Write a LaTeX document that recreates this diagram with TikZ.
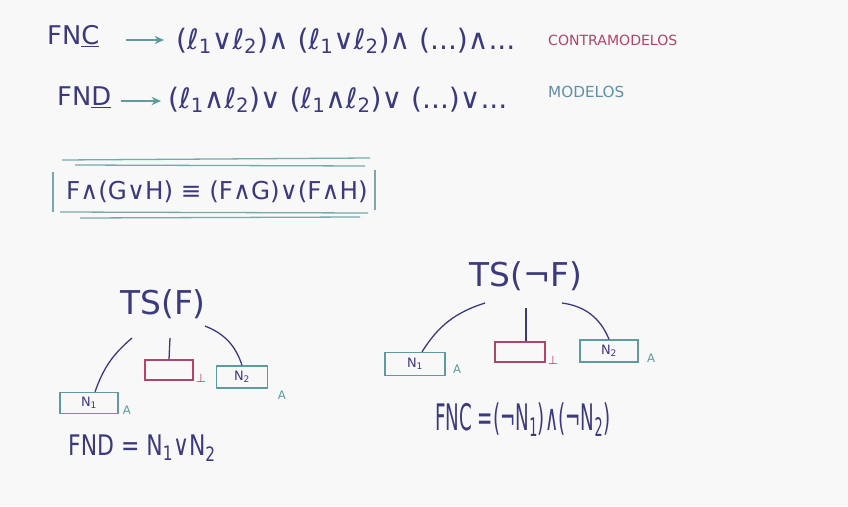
\documentclass[tikz,border=0pt]{standalone}
\usepackage{fontspec}
\setmainfont{DejaVu Sans}
\usetikzlibrary{arrows.meta}
\definecolor{ink}{HTML}{3C3A7E}
\definecolor{tealc}{HTML}{5F9A9C}
\definecolor{redc}{HTML}{B0456A}
\definecolor{modc}{HTML}{5F8FAA}
\definecolor{bg}{HTML}{F8F8F8}
\tikzset{
  big/.style={text=ink, font=\fontsize{22}{26}\selectfont, inner sep=0pt},
  formula/.style={text=ink, font=\fontsize{24}{28}\selectfont, inner sep=0pt},
  tree/.style={text=ink, font=\fontsize{28}{32}\selectfont, inner sep=0pt},
  mid/.style={text=ink, font=\fontsize{21}{25}\selectfont, inner sep=0pt},
  tag/.style={font=\fontsize{12}{14}\selectfont, inner sep=0pt},
  lbl/.style={text=tealc, font=\fontsize{10}{12}\selectfont, inner sep=0pt},
  arr/.style={draw=tealc, line width=1.4pt, -{Stealth[length=8pt,width=7pt]}},
  nbox/.style={draw=tealc, line width=1.2pt, text=ink, font=\fontsize{11}{13}\selectfont, inner sep=0pt},
  rbox/.style={draw=redc, line width=1.2pt, inner sep=0pt},
  conn/.style={draw=ink, line width=1.1pt},
  frame/.style={draw=tealc!85, line width=1.1pt},
}
\begin{document}
\begin{tikzpicture}[x=0.03cm,y=-0.03cm]
\fill[bg] (0,0) rectangle (848,506);
\useasboundingbox (0,0) rectangle (848,506);

% line 1
\node[big, anchor=west] (fnc) at (47,36) {FN\underline{C}};
\coordinate (a1s) at (126,40);
\coordinate (a1e) at (164,40);
\draw[arr] (a1s) -- (a1e);
\node[formula, anchor=west] (cnf) at (176,41) {(ℓ\textsubscript{1}∨ℓ\textsubscript{2})∧ (ℓ\textsubscript{1}∨ℓ\textsubscript{2})∧ (...)∧...};
\node[tag, text=redc, anchor=west] (contra) at (548,40) {CONTRAMODELOS};

% line 2
\node[big, anchor=west] (fnd) at (57,97) {FN\underline{D}};
\coordinate (a2s) at (121,101);
\coordinate (a2e) at (161,101);
\draw[arr] (a2s) -- (a2e);
\node[formula, anchor=west] (dnf) at (168,100) {(ℓ\textsubscript{1}∧ℓ\textsubscript{2})∨ (ℓ\textsubscript{1}∧ℓ\textsubscript{2})∨ (...)∨...};
\node[tag, text=modc, anchor=west] (mod) at (548,92) {\fontsize{13}{15}\selectfont MODELOS};

% distributive law box
\node[mid, anchor=west] (law) at (66,192) {F∧(G∨H) ≡ (F∧G)∨(F∧H)};
\draw[frame] (62,160) -- (370,158);
\draw[frame] (75,165) -- (365,166);
\draw[frame] (60,212) -- (368,213);
\draw[frame] (80,218) -- (360,217);
\draw[frame] (53,172) -- (53,212);
\draw[frame] (375,170) -- (375,210);

% left tree
\node[tree, anchor=center] (tsf) at (163,304) {TS(F)};
\node[rbox, minimum width=1.44cm, minimum height=0.6cm] (botL) at (169,370) {};
\node[text=redc, font=\fontsize{10}{12}\selectfont, inner sep=0pt] (botLl) at (201,378) {⊥};
\node[nbox, minimum width=1.53cm, minimum height=0.66cm] (n2L) at (242,377) {N\textsubscript{2}};
\node[lbl] (aN2L) at (282,395) {A};
\node[nbox, minimum width=1.74cm, minimum height=0.63cm] (n1L) at (89,403) {N\textsubscript{1}};
\node[lbl] (aN1L) at (127,410) {A};
\coordinate (l1s) at (132,338);
\coordinate (l2s) at (170,338);
\coordinate (l3s) at (205,326);
\draw[conn] (l1s) to[bend right=15] (n1L.north east -| 95,0);
\draw[conn] (l2s) -- (botL.north);
\draw[conn] (l3s) to[bend left=25] (n2L.north);
\node[big, anchor=west] (fndres) at (68,448) {\scalebox{0.85}[1.1]{FND = N\textsubscript{1}∨N\textsubscript{2}}};

% right tree
\node[tree, anchor=center] (tsnf) at (526,276) {TS(¬F)};
\node[rbox, minimum width=1.5cm, minimum height=0.6cm] (botR) at (520,352) {};
\node[text=redc, font=\fontsize{10}{12}\selectfont, inner sep=0pt] (botRl) at (553,360) {⊥};
\node[nbox, minimum width=1.8cm, minimum height=0.69cm] (n1R) at (415,364) {N\textsubscript{1}};
\node[lbl] (aN1R) at (457,369) {A};
\node[nbox, minimum width=1.74cm, minimum height=0.66cm] (n2R) at (609,351) {N\textsubscript{2}};
\node[lbl] (aN2R) at (651,358) {A};
\coordinate (r1s) at (485,303);
\coordinate (r2s) at (526,308);
\coordinate (r3s) at (562,303);
\draw[conn] (r1s) to[bend right=20] (n1R.north east -| 422,0);
\draw[conn] (r2s) -- (botR.north -| 526,0);
\draw[conn] (r3s) to[bend left=30] (n2R.north);
\node[formula, anchor=west] (fncres) at (435,420) {\scalebox{0.65}[1.3]{FNC =(¬N\textsubscript{1})∧(¬N\textsubscript{2})}};
\end{tikzpicture}
\end{document}
